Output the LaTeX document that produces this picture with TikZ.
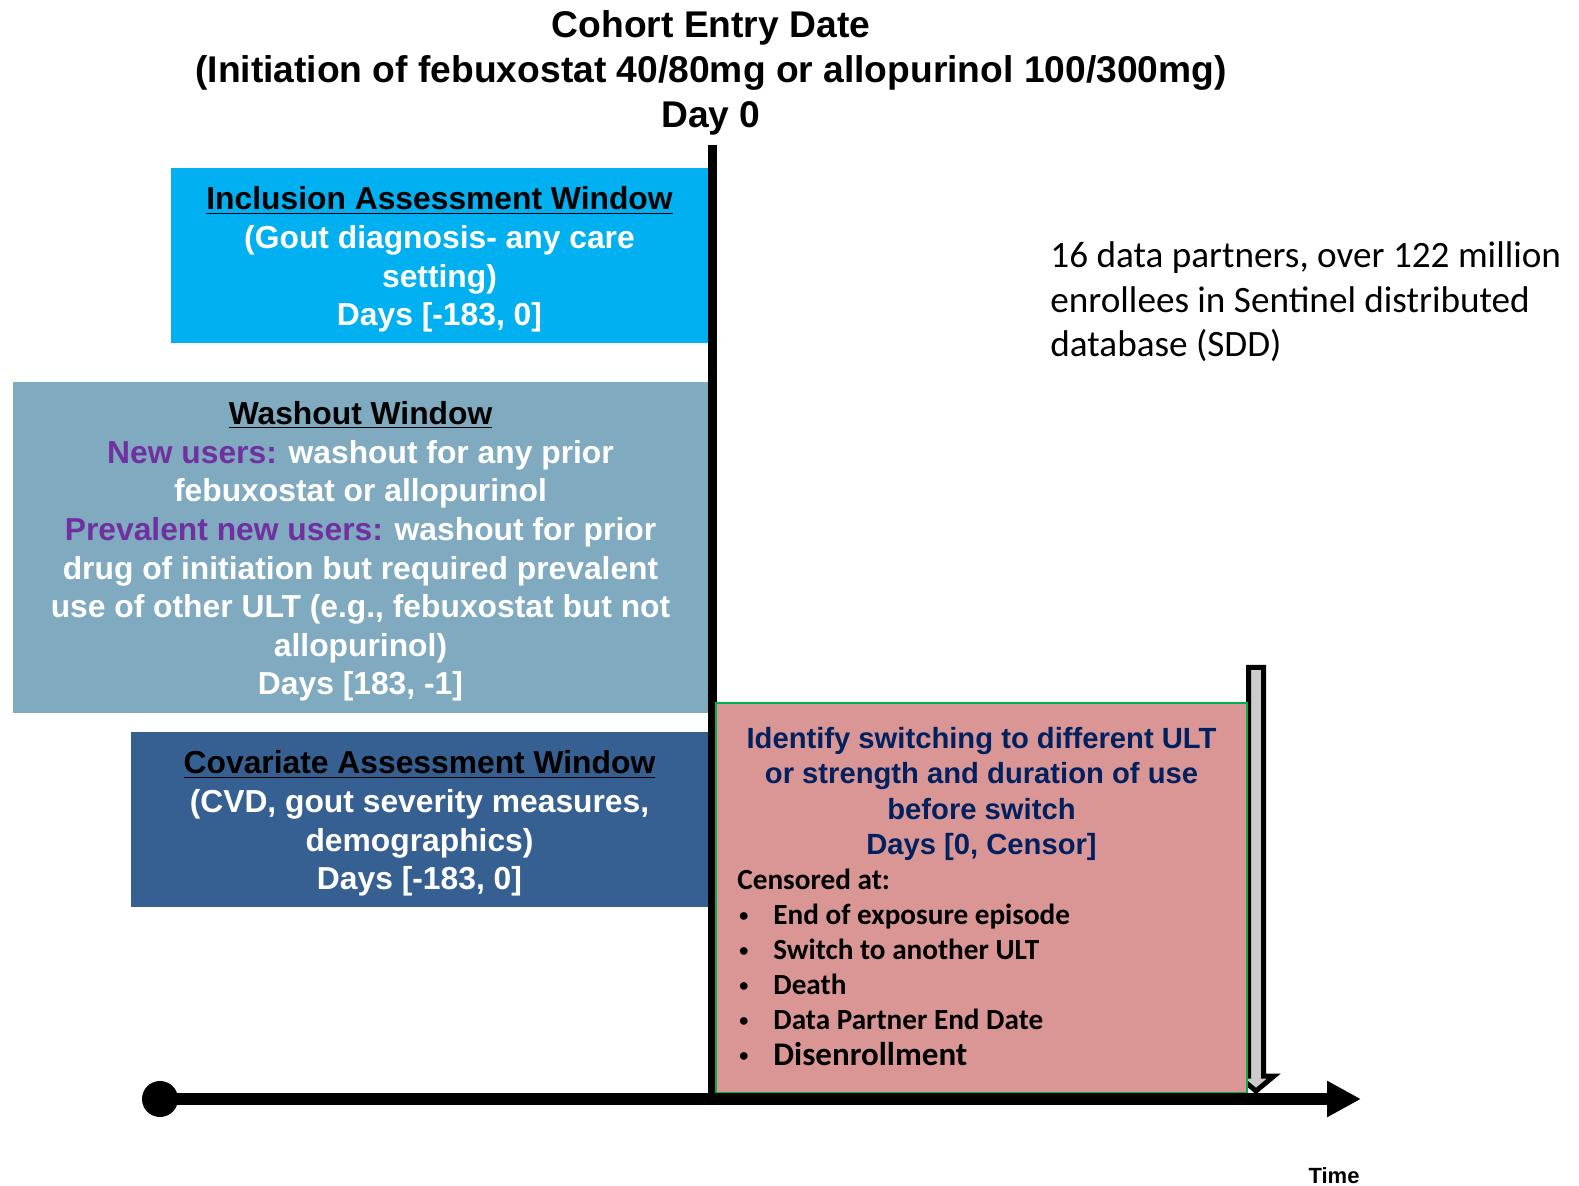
\documentclass[tikz,border=0pt]{standalone}
\usepackage{fontspec}
\setmainfont{Liberation Sans}
\newfontfamily\calibfont{Carlito}
\usetikzlibrary{positioning, arrows.meta}

\definecolor{inclcyan}{HTML}{00B0F0}
\definecolor{washblue}{HTML}{7FAAC0}
\definecolor{covblue}{HTML}{376092}
\definecolor{switchred}{HTML}{D99694}
\definecolor{switchgreen}{HTML}{00B050}
\definecolor{navytext}{HTML}{002060}
\definecolor{userpurple}{HTML}{7030A0}

\newcommand{\censoritem}[1]{\hspace*{1pt}\makebox[17pt][l]{\raisebox{1.6pt}{\scalebox{0.62}{\textbullet}}}#1}

\tikzset{
  titletext/.style={align=center, font=\fontsize{18.6pt}{22.6pt}\selectfont\bfseries},
  windowbox/.style={rectangle, inner sep=0pt},
  windowtext/.style={align=center, inner sep=0pt, text=white,
    font=\fontsize{15.9pt}{19.3pt}\selectfont\bfseries},
  switchbox/.style={rectangle, inner sep=0pt, fill=switchred, draw=switchgreen, line width=1pt,
    minimum width=265.5pt, minimum height=195pt},
  switchtext/.style={align=center, text=navytext, font=\fontsize{14.6pt}{17.6pt}\selectfont\bfseries},
  censortext/.style={align=left, inner sep=0pt, font=\calibfont\fontsize{14.6pt}{17.6pt}\selectfont\bfseries},
  sddtext/.style={align=left, inner sep=0pt, font=\calibfont\fontsize{18.6pt}{22.2pt}\selectfont},
  dayline/.style={line width=4.5pt},
  timeline/.style={line width=6pt, -{Triangle[length=17pt, width=17pt]}},
  origindot/.style={circle, fill=black, inner sep=0pt, minimum size=18pt},
  censorarrow/.style={draw=black, fill=black!20, line width=2.5pt, line join=miter},
  timelabel/.style={font=\fontsize{11pt}{13pt}\selectfont\bfseries}
}

\begin{document}
\begin{tikzpicture}[x=0.5pt, y=-0.5pt]
\useasboundingbox (0,0) rectangle (1579,1186);

% cohort entry
\node[titletext] (entry) at (711,73) {Cohort Entry Date\\(Initiation of febuxostat 40/80mg or allopurinol 100/300mg)\\Day 0};

% windows before day 0
\node[windowbox, fill=inclcyan, minimum width=268.5pt, minimum height=87.5pt] (incl) at (439.5,255.5) {};
\node[windowtext] (incltext) at ([yshift=-2pt]incl.center)
  {\textcolor{black}{\underline{Inclusion Assessment Window}}\\(Gout diagnosis- any care\\setting)\\Days [-183, 0]};
\node[windowbox, fill=washblue, minimum width=347.5pt, minimum height=165.5pt] (wash) at (360.5,547.5) {};
\node[windowtext] (washtext) at ([yshift=-2pt]wash.center)
  {\textcolor{black}{\underline{Washout Window}}\\\textcolor{userpurple}{New users:} washout for any prior\\febuxostat or allopurinol\\\textcolor{userpurple}{Prevalent new users:} washout for prior\\drug of initiation but required prevalent\\use of other ULT (e.g., febuxostat but not\\allopurinol)\\Days [183, -1]};
\node[windowbox, fill=covblue, minimum width=288.5pt, minimum height=87.5pt] (covar) at (419.5,819.5) {};
\node[windowtext] (covartext) at ([yshift=-2pt]covar.center)
  {\textcolor{black}{\underline{Covariate Assessment Window}}\\(CVD, gout severity measures,\\demographics)\\Days [-183, 0]};

% day 0
\coordinate (daytop) at (712,145);
\coordinate (dayzero) at (712,1099);
\draw[dayline] (daytop) -- (dayzero);

% follow-up
\draw[censorarrow] (1248.5,667.5) -- (1263.5,667.5) -- (1263.5,1076) -- (1274,1076)
  -- (1256,1091) -- (1238,1076) -- (1248.5,1076) -- cycle;
\node[switchbox] (switch) at (981.5,898) {};
\node[switchtext] (switchtitle) at (981.5,794) {Identify switching to different ULT\\or strength and duration of use\\before switch\\Days [0, Censor]};
\node[censortext, anchor=west] (censor) at (737,967) {Censored at:\\
  \censoritem{End of exposure episode}\\
  \censoritem{Switch to another ULT}\\
  \censoritem{Death}\\
  \censoritem{Data Partner End Date}\\
  \censoritem{{\fontsize{16.5pt}{17.6pt}\selectfont Disenrollment}}};

\node[sddtext, anchor=west] (sdd) at (1050,302) {16 data partners, over 122 million\\enrollees in Sentinel distributed\\database (SDD)};

% time axis
\node[origindot] (origin) at (160,1099) {};
\coordinate (timeend) at (1361,1099);
\draw[timeline] (origin.center) -- (timeend);
\node[timelabel] (time) at (1334,1176) {Time};
\end{tikzpicture}
\end{document}
